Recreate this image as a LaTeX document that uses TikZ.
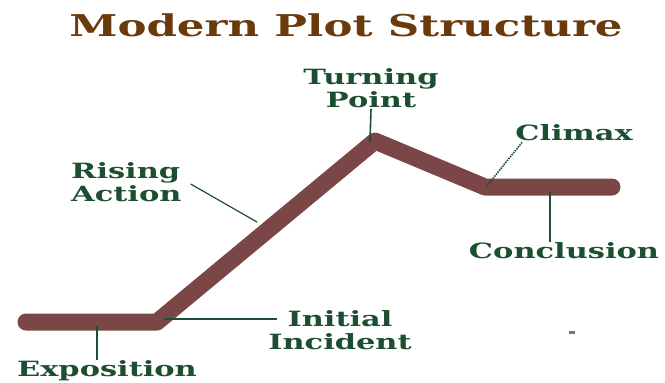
\documentclass[tikz,border=0pt]{standalone}
\usepackage{fontspec}
\usepackage{tikz}
\newfontfamily\plotfont{DejaVu Serif}[FakeStretch=1.45]
\definecolor{titlebrown}{RGB}{107,58,12}
\definecolor{labgreen}{RGB}{28,78,48}
\definecolor{plotred}{RGB}{122,70,70}

\begin{document}
\begin{tikzpicture}[
  x=1pt,y=-1pt,
  lbl/.style={font=\plotfont\bfseries\fontsize{21}{23}\selectfont, text=labgreen, inner sep=1pt, align=center},
  pin/.style={draw=labgreen, line width=1.6pt},
  arc/.style={draw=plotred, line width=17pt, line cap=round, line join=round}]
\useasboundingbox (0,0) rectangle (665,383);
\node[font=\plotfont\bfseries\fontsize{30}{32}\selectfont, text=titlebrown] (title) at (346,25) {Modern Plot Structure};
% the plot line
\coordinate (start) at (26,322);
\coordinate (incident) at (157,322);
\coordinate (turn) at (375,141);
\coordinate (climax) at (485,187);
\coordinate (finish) at (612,187);
\draw[arc] (start) -- (incident) -- (turn) -- (climax) -- (finish);
% labels
\node[lbl] (expo) at (107,371) {Exposition};
\node[lbl] (init) at (340,330) {Initial\\Incident};
\node[lbl, align=left, anchor=west] (rising) at (70,182) {Rising\\Action};
\node[lbl] (turning) at (371,88) {Turning\\Point};
\node[lbl] (clim) at (574,133) {Climax};
\node[lbl] (concl) at (564,251) {Conclusion};
% pins from the line to the labels
\coordinate (expoPt) at (97,326);
\coordinate (initPt) at (164,319);
\coordinate (risePt) at (257,222);
\coordinate (turnPt) at (370,142);
\coordinate (climPt) at (486,187);
\coordinate (conclPt) at (550,192);
\draw[pin] (expoPt) -- (expoPt |- expo.north);
\draw[pin] (initPt) -- ([xshift=10pt]init.west |- initPt);
\draw[pin, line width=1.2pt] ([xshift=8pt,yshift=-2pt]rising.east) -- (risePt);
\draw[pin] (turnPt) -- (turning.south);
\draw[pin, dash pattern=on 1.5pt off 1pt] ([xshift=8pt]clim.south west) -- (climPt);
\draw[pin] (conclPt) -- (conclPt |- concl.north);
\fill[labgreen!70] (569,331) rectangle (575,334);
\end{tikzpicture}
\end{document}
